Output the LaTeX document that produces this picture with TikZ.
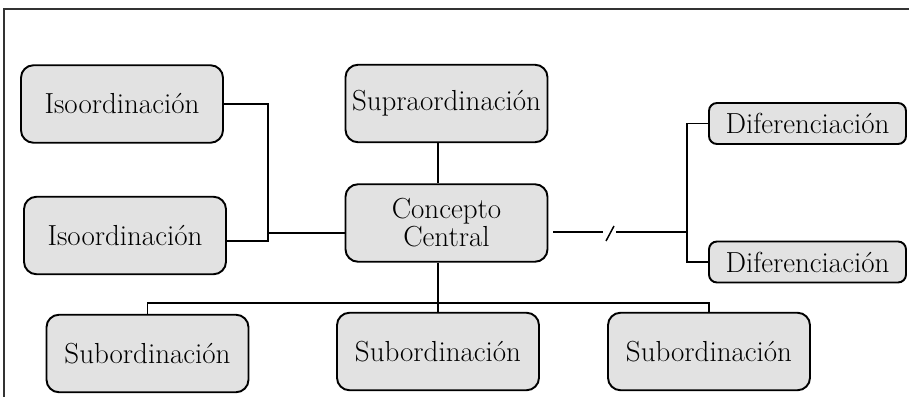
\documentclass[tikz,border=0pt]{standalone}
\usepackage{tikz}
\usetikzlibrary{positioning}
\usepackage{xcolor}
\definecolor{boxgray}{HTML}{E2E2E2}

\begin{document}
\begin{tikzpicture} [line width=0.85pt, on grid,
        main/.style = {draw, fill=boxgray, line width=1.1pt, rounded corners=0.25cm, minimum width=4.04cm, minimum height=1.55cm, inner sep=0pt, align=center, font=\fontsize{16.5}{17}\selectfont},
        small/.style = {main, rounded corners=0.16cm, minimum width=3.94cm, minimum height=0.82cm}]
        \useasboundingbox (-8.93,-3.48) rectangle (9.25,4.46);
        %Rahmen
        \draw[line width=0.6pt, black!80] (-8.85,-3.48) -- (-8.85,4.28) -- (9.25,4.28);

        %Knoten
        \node[main] (concept) {Concepto\\[-1pt]Central};
        \node[main] (supra) [above = 2.39cm of concept] {Supraordinaci\'on};

        \node[main] (iso1) [above left = 2.38cm and 6.49cm of concept] {Isoordinaci\'on};
        \node[main] (iso2) [below left = 0.25cm and 6.43cm of concept] {Isoordinaci\'on};

        \node[small] (dif1) [above right = 1.99cm and 7.22cm of concept] {Diferenciaci\'on};
        \node[small] (dif2) [below right = 0.78cm and 7.22cm of concept] {Diferenciaci\'on};

        \node[main] (sub2) [below left = 2.57cm and 0.17cm of concept] {Subordinaci\'on};
        \node[main] (sub1) [below left = 0.04cm and 5.81cm of sub2] {Subordinaci\'on};
        \node[main] (sub3) [right = 5.42cm of sub2] {Subordinaci\'on};

        %Hilfspunkte
        \coordinate (isoj) at (-3.57,-0.2);
        \coordinate (difj) at (4.81,-0.18);
        \coordinate (cut) at (3.27,-0.18);
        \coordinate (bus) at ([yshift=0.18cm]sub2.north);

        %Kanten
        \draw (iso1.east) -| ([yshift=-0.11cm]iso2.east -| isoj) -- ([yshift=-0.11cm]iso2.east);
        \draw (isoj) -- (concept.west |- isoj);
        \draw (supra.south -| sub2.north) -- (concept.north -| sub2.north);
        \draw (concept.south -| sub2.north) -- (sub2.north);
        \draw (sub1.north) |- (bus) -| (sub3.north);
        \draw (dif1.west) -| (difj) |- (dif2.west);
        \draw ([xshift=0.1cm]concept.east |- cut) -- ([xshift=-0.14cm]cut);
        \draw ([xshift=0.12cm]cut) -- (difj);
        \draw ([shift={(-0.08,-0.18)}]cut) -- ([shift={(0.08,0.12)}]cut);

    \end{tikzpicture}
\end{document}
